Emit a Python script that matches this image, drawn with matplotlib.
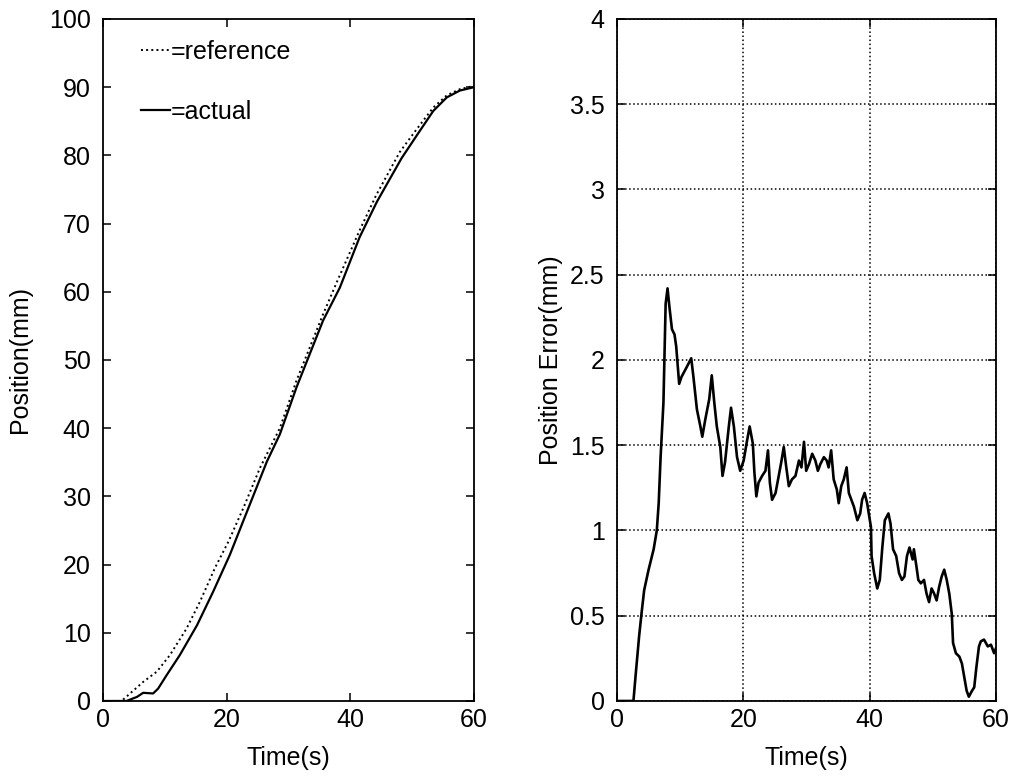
import matplotlib
matplotlib.use("Agg")
import matplotlib.pyplot as plt
from matplotlib.ticker import FuncFormatter, MultipleLocator

plt.rcParams["font.family"] = ["Liberation Sans", "DejaVu Sans"]

# Reference trajectory (time s, position mm)
ref_t = [0, 3.0, 6.5, 8.7, 10.8, 13.5, 15.7, 18.1, 20.3, 22.7, 25.4, 28.6,
         31.3, 35.5, 38.0, 41.5, 44.2, 48.0, 50.7, 53.4, 55.6, 57.7, 60.0]
ref_pos = [0, 0, 2.8, 4.3, 6.7, 10.6, 14.6, 19.5, 23.4, 28.3, 34.2, 40.0,
           47.0, 56.5, 61.8, 69.0, 74.2, 80.5, 83.8, 87.0, 88.8, 89.7, 90.2]

# Measured position
act_t = [0, 3.8, 5.5, 6.5, 8.1, 8.9, 10.3, 12.4, 15.2, 17.8, 20.5, 23.3,
         26.5, 28.6, 31.3, 35.6, 38.3, 41.5, 44.3, 48.3, 50.8, 53.4, 55.6,
         57.7, 60.0]
act_pos = [0, 0, 0.6, 1.2, 1.1, 1.8, 3.8, 6.7, 11.1, 16.0, 21.4, 27.8,
           35.1, 39.1, 46.0, 55.8, 60.6, 68.0, 73.2, 79.6, 83.0, 86.5, 88.5,
           89.5, 90.0]

# Position error (time s, error mm)
err_t = [0, 2.6, 2.97, 3.5, 3.9, 4.3, 5.0, 5.8, 6.3, 6.6, 6.9, 7.35, 7.5, 7.7,
         8.0, 8.3, 8.7, 9.1, 9.37, 9.84, 10.2, 11.06, 11.75, 12.1, 12.65,
         13.2, 13.5, 13.97, 14.6, 15.0, 15.4, 15.8, 16.35, 16.7, 17.1, 17.7,
         18.05, 18.5, 19.0, 19.5, 20.05, 20.6, 21.0, 21.5, 21.75, 22.06,
         22.4, 22.97, 23.5, 23.9, 24.2, 24.55, 25.1, 25.6, 26.0, 26.4, 26.8,
         27.2, 27.7, 28.25, 28.8, 29.2, 29.6, 29.95, 30.4, 30.9, 31.4, 31.8,
         32.2, 32.75, 33.2, 33.5, 33.9, 34.3, 34.8, 35.1, 35.5, 35.9, 36.35,
         36.7, 37.1, 37.5, 38.05, 38.5, 38.8, 39.2, 39.6, 40.2, 40.3, 40.7,
         41.2, 41.6, 42.0, 42.4, 42.97, 43.3, 43.7, 44.2, 44.65, 45.1, 45.5,
         45.9, 46.3, 46.8, 47.0, 47.4, 47.7, 48.1, 48.6, 49.0, 49.4, 49.8,
         50.2, 50.6, 51.0, 51.4, 51.8, 52.2, 52.6, 53.0, 53.2, 53.65, 54.2,
         54.6, 54.97, 55.35, 55.7, 56.2, 56.55, 56.9, 57.3, 57.6, 58.1, 58.7,
         59.2, 59.7, 60.0]
err_mm = [0, 0, 0.16, 0.38, 0.52, 0.65, 0.77, 0.89, 1.0, 1.16, 1.43, 1.75,
          2.01, 2.33, 2.42, 2.31, 2.18, 2.15, 2.08, 1.86, 1.90, 1.96, 2.01,
          1.90, 1.71, 1.61, 1.55, 1.65, 1.77, 1.91, 1.75, 1.61, 1.49, 1.32,
          1.40, 1.61, 1.72, 1.61, 1.43, 1.35, 1.41, 1.53, 1.61, 1.51, 1.34,
          1.20, 1.28, 1.32, 1.35, 1.47, 1.28, 1.18, 1.22, 1.32, 1.40, 1.49,
          1.37, 1.26, 1.30, 1.32, 1.41, 1.37, 1.52, 1.35, 1.39, 1.45, 1.41,
          1.35, 1.39, 1.43, 1.41, 1.37, 1.47, 1.30, 1.24, 1.16, 1.26, 1.30,
          1.37, 1.22, 1.18, 1.14, 1.06, 1.10, 1.18, 1.22, 1.16, 1.02, 0.85,
          0.75, 0.66, 0.71, 0.90, 1.06, 1.10, 1.04, 0.89, 0.85, 0.75, 0.71,
          0.73, 0.85, 0.90, 0.83, 0.89, 0.79, 0.71, 0.69, 0.71, 0.63, 0.58,
          0.66, 0.63, 0.59, 0.67, 0.73, 0.77, 0.71, 0.63, 0.51, 0.34, 0.28,
          0.26, 0.22, 0.14, 0.06, 0.025, 0.06, 0.08, 0.20, 0.32, 0.35, 0.36,
          0.32, 0.33, 0.28, 0.31]

x_ticks = [0, 20, 40, 60]

FS = 18
fig = plt.figure(figsize=(10.18, 7.78), dpi=100)
ax1 = fig.add_axes([0.1012, 0.0990, 0.3644, 0.8766])
ax2 = fig.add_axes([0.6061, 0.0990, 0.3723, 0.8766])

# Left: position tracking
l_ref, = ax1.plot(ref_t, ref_pos, color="black", linestyle=":", linewidth=1.4)
l_act, = ax1.plot(act_t, act_pos, color="black", linestyle="-", linewidth=1.6)
ax1.set_xlim(0, 60)
ax1.set_ylim(0, 100)
ax1.yaxis.set_major_locator(MultipleLocator(10))
ax1.set_xticks(x_ticks)
ax1.set_xlabel("Time(s)", fontsize=FS, labelpad=10)
ax1.set_ylabel("Position(mm)", fontsize=FS, labelpad=12)
ax1.legend([l_ref, l_act], ["=reference", "=actual"], loc="upper left",
           bbox_to_anchor=(0.075, 0.984), frameon=False, fontsize=FS,
           handlelength=1.15, handletextpad=0.05, labelspacing=1.45,
           borderaxespad=0)

# Right: position error
ax2.plot(err_t, err_mm, color="black", linewidth=1.9)
ax2.set_xlim(0, 60)
ax2.set_ylim(0, 4)
ax2.yaxis.set_major_locator(MultipleLocator(0.5))
ax2.yaxis.set_major_formatter(FuncFormatter(lambda v, p: f"{v:g}"))
ax2.set_xticks(x_ticks)
ax2.grid(True, color="black", linestyle=":", linewidth=1.1)
ax2.set_xlabel("Time(s)", fontsize=FS, labelpad=10)
ax2.set_ylabel("Position Error(mm)", fontsize=FS, labelpad=5)

for ax in (ax1, ax2):
    ax.tick_params(direction="in", length=6, width=1.1, labelsize=FS,
                   top=True, right=True)
    ax.tick_params(axis="x", pad=5)
    ax.tick_params(axis="y", pad=9)
    for sp in ax.spines.values():
        sp.set_linewidth(1.3)

fig.savefig("out.png", dpi=100, facecolor="white")
